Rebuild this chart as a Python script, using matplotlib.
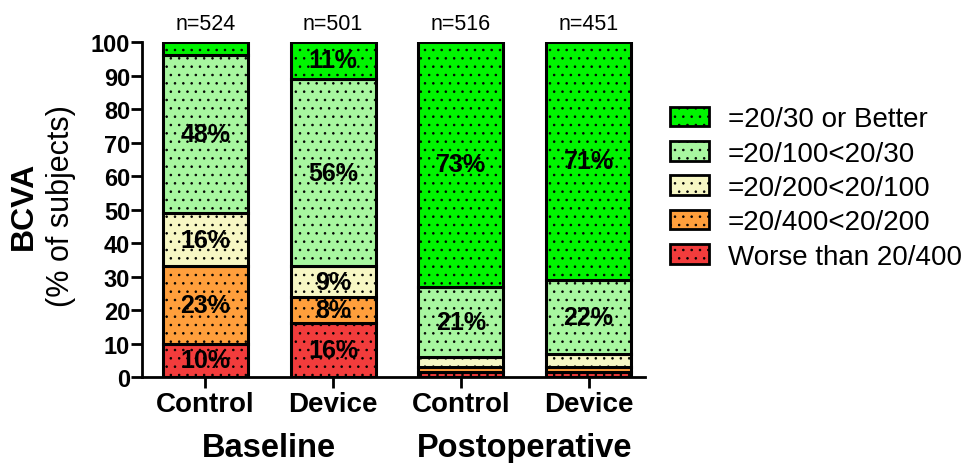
import matplotlib.pyplot as plt
from matplotlib.patches import Patch

plt.rcParams['font.family'] = ['Liberation Sans', 'DejaVu Sans']
plt.rcParams['hatch.linewidth'] = 0.6

bars = ["Control", "Device", "Control", "Device"]
groups = ["Baseline", "Postoperative"]
n_labels = ["n=524", "n=501", "n=516", "n=451"]
categories = ["Worse than 20/400", "=20/400<20/200", "=20/200<20/100",
              "=20/100<20/30", "=20/30 or Better"]
colors = ["#f23c3c", "#ff9f3c", "#f7f7c4", "#a8f7a0", "#00f500"]

# stacked heights, bottom (worse) to top (better)
worse = [10, 16, 1.5, 1.5]
w400 = [23, 8, 1.5, 1.5]
w200 = [16, 9, 3, 4]
w100 = [47, 56, 21, 22]
better = [4, 11, 73, 71]
# printed percentages (None = no label)
labels = [
    ["10%", "16%", None, None],
    ["23%", "8%", None, None],
    ["16%", "9%", None, None],
    ["48%", "56%", "21%", "22%"],
    [None, "11%", "73%", "71%"],
]
series = [worse, w400, w200, w100, better]

fig = plt.figure(figsize=(9.67, 4.64), dpi=100)
ax = fig.add_axes([0.1468, 0.1853, 0.52, 0.722])

x = list(range(len(bars)))
bottom = [0] * len(bars)
for vals, col, labs in zip(series, colors, labels):
    ax.bar(x, vals, 0.665, bottom=bottom, color=col, edgecolor="black",
           linewidth=2.2, hatch="..", zorder=2)
    for i, (v, b, lab) in enumerate(zip(vals, bottom, labs)):
        if lab:
            ax.text(i, b + v / 2, lab, ha="center", va="center",
                    fontsize=18, fontweight="bold", zorder=4)
    bottom = [b + v for b, v in zip(bottom, vals)]

for i, n in enumerate(n_labels):
    ax.text(i, 102.5, n, ha="center", va="bottom", fontsize=15.5)

ax.set_xlim(-0.497, 3.44)
ax.set_ylim(0, 100)
ax.set_yticks(range(0, 101, 10))
ax.set_xticks(x)
ax.set_xticklabels(bars, fontsize=20, fontweight="bold")
for t in ax.get_yticklabels():
    t.set_fontweight("bold")
    t.set_fontsize(17)
ax.tick_params(axis="y", length=8, width=2, pad=0.5)
ax.tick_params(axis="x", length=8, width=2, pad=2)
for s in ["top", "right"]:
    ax.spines[s].set_visible(False)
for s in ["left", "bottom"]:
    ax.spines[s].set_linewidth(2)

ax.text(0.5, -16.5, groups[0], ha="center", va="top", fontsize=23.5,
        fontweight="bold")
ax.text(2.5, -16.5, groups[1], ha="center", va="top", fontsize=23.5,
        fontweight="bold")

fig.text(0.0243, 0.556, "BCVA", rotation=90, ha="center", va="center",
         fontsize=23, fontweight="bold")
fig.text(0.063, 0.556, "(% of subjects)", rotation=90, ha="center",
         va="center", fontsize=22)

handles = [Patch(facecolor=c, edgecolor="black", linewidth=2, hatch="..",
                 label=l) for c, l in zip(colors, categories)][::-1]
fig.legend(handles=handles, loc="center left", bbox_to_anchor=(0.667, 0.593),
           frameon=False, fontsize=20, handlelength=1.4, handleheight=0.72,
           labelspacing=0.3, handletextpad=0.68)

fig.savefig("out.png", dpi=100)
